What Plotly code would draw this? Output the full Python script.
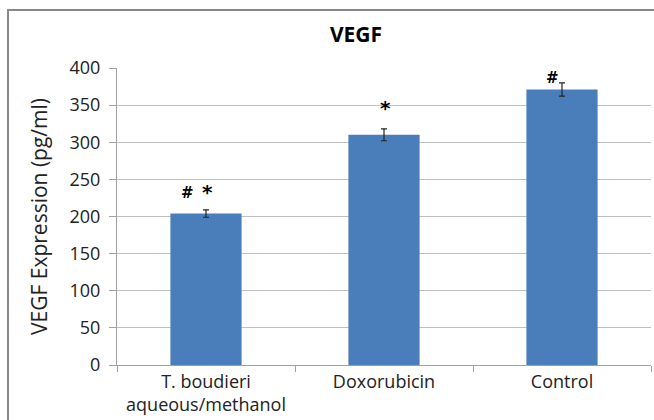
import plotly.graph_objects as go

categories = ['T. boudieri<br>aqueous/methanol', 'Doxorubicin', 'Control']
vegf = [204, 310, 371]
vegf_err = [5, 8, 9]
y_ticks = [0, 50, 100, 150, 200, 250, 300, 350, 400]

# significance marks: (category index, symbol)
marks = [(0, '#'), (0, '*'), (1, '*'), (2, '#')]
mark_shift = [(-19, 17), (1, 18), (1, 21), (-10, 5)]

W, H = 654, 420
L, R, T, B = 117, 3, 68, 55
pw, ph = W - L - R, H - T - B


def px_x(x):
    return (x - L) / pw


def px_y(y):
    return (H - B - y) / ph


fig = go.Figure(go.Bar(
    x=categories,
    y=vegf,
    marker=dict(color='#4a7ebb', line=dict(width=0)),
    error_y=dict(type='data', array=vegf_err, color='#222222', thickness=1.2, width=3),
    showlegend=False
))

for (i, m), (dx, dy) in zip(marks, mark_shift):
    fig.add_annotation(x=categories[i], y=vegf[i] + vegf_err[i], text='<b>' + m + '</b>',
                       showarrow=False, xshift=dx, yshift=dy,
                       font=dict(size=20 if m == '*' else 15, color='black', family='DejaVu Sans'))

# outer frame around the chart
fig.add_shape(type='rect', xref='paper', yref='paper',
              x0=px_x(8), x1=px_x(700), y0=px_y(460), y1=px_y(10),
              line=dict(color='#888888', width=2), fillcolor='rgba(0,0,0,0)')

fig.update_layout(
    width=W, height=H,
    margin=dict(l=L, r=R, t=T, b=B),
    paper_bgcolor='white', plot_bgcolor='white',
    bargap=0.6,
    font=dict(family='Open Sans', color='#222222'),
    title=dict(text='<b>VEGF</b>', x=356 / W, xref='container', xanchor='center',
               y=1 - 35 / H, yref='container', yanchor='middle', font=dict(size=21, color='black')),
    yaxis=dict(range=[0, 400], tickvals=y_ticks, showgrid=True, gridcolor='#bfbfbf',
               showline=True, linecolor='#a0a0a0', ticks='outside', tickcolor='#a0a0a0',
               ticklen=7, tickfont=dict(size=18), zeroline=False, ticklabelstandoff=5,
               automargin=False,
               title=dict(text='VEGF Expression (pg/ml)', font=dict(size=21), standoff=16)),
    xaxis=dict(showline=True, linecolor='#a0a0a0', ticks='outside', tickson='boundaries',
               tickcolor='#a0a0a0', ticklen=6, tickfont=dict(size=18), automargin=False)
)

fig.write_html('out.html', config={'displayModeBar': False},
               post_script="document.body.style.margin='0';")
